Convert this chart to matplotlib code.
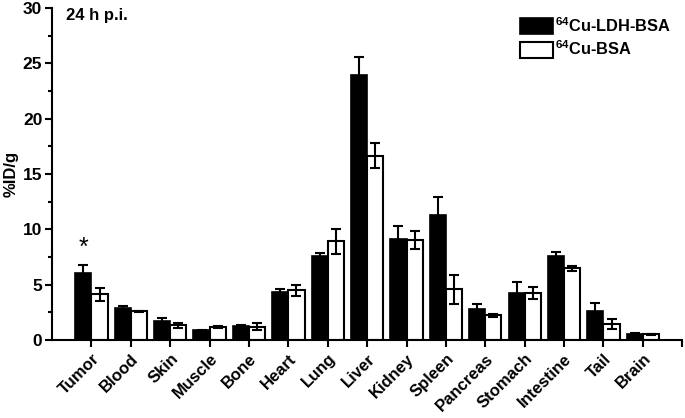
import numpy as np
import matplotlib
matplotlib.use("Agg")
import matplotlib.pyplot as plt

plt.rcParams['font.family'] = ['Liberation Sans', 'DejaVu Sans']
plt.rcParams['font.weight'] = 'bold'
plt.rcParams['mathtext.fontset'] = 'custom'
plt.rcParams['mathtext.rm'] = 'Liberation Sans:bold'
plt.rcParams['mathtext.default'] = 'rm'

organs = ["Tumor", "Blood", "Skin", "Muscle", "Bone", "Heart", "Lung", "Liver",
          "Kidney", "Spleen", "Pancreas", "Stomach", "Intestine", "Tail", "Brain"]
ldh_bsa = [6.05, 2.85, 1.7, 0.85, 1.27, 4.3, 7.6, 23.9, 9.1, 11.3, 2.8, 4.27, 7.6, 2.6, 0.55]
ldh_err = [0.75, 0.22, 0.25, 0.05, 0.05, 0.33, 0.25, 1.65, 1.2, 1.65, 0.4, 1.0, 0.35, 0.7, 0.07]
bsa = [4.1, 2.6, 1.3, 1.15, 1.2, 4.5, 8.9, 16.65, 9.05, 4.55, 2.2, 4.2, 6.47, 1.45, 0.5]
bsa_err = [0.55, 0.05, 0.25, 0.08, 0.3, 0.5, 1.15, 1.1, 0.8, 1.3, 0.15, 0.55, 0.22, 0.45, 0.07]

fig = plt.figure(figsize=(6.85, 4.18), dpi=100)
ax = fig.add_axes([0.076, 0.187, 0.92, 0.794])

x = np.arange(1, len(organs) + 1)
w = 0.41
ax.bar(x - w/2, ldh_bsa, w, color='black', edgecolor='black', linewidth=1.2,
       label=r'$^{64}$Cu-LDH-BSA', zorder=2)
ax.bar(x + w/2, bsa, w, color='white', edgecolor='black', linewidth=1.5,
       label=r'$^{64}$Cu-BSA', zorder=2)
ax.errorbar(x - w/2, ldh_bsa, yerr=ldh_err, fmt='none', ecolor='black',
            elinewidth=1.5, capsize=3.5, capthick=1.5, zorder=3)
ax.errorbar(x + w/2, bsa, yerr=bsa_err, fmt='none', ecolor='black',
            elinewidth=1.5, capsize=3.5, capthick=1.5, zorder=3)

# significance mark on tumor
ax.text(x[0] - w/2, ldh_bsa[0] + ldh_err[0] + 0.45, '*', ha='center', va='bottom',
        fontsize=18, fontweight='normal')

ax.text(0.35, 29.95, '24 h p.i.', fontsize=12, fontweight='bold', va='top')

ax.set_xlim(0, 16)
ax.set_ylim(0, 30)
ax.set_xticks(list(x) + [16])
ax.set_xticklabels(organs + [''], rotation=45, ha='right', rotation_mode='anchor',
                   fontsize=12, fontweight='bold')
ax.set_yticks(np.arange(0, 31, 5))
ax.set_yticks(np.arange(2.5, 30, 5), minor=True)
ax.tick_params(axis='y', which='major', labelsize=12.5, length=5, width=1.5, direction='out', pad=2)
ax.tick_params(axis='y', which='minor', length=3, width=1.5, direction='out')
ax.tick_params(axis='x', length=5, width=1.5, direction='out', pad=3)
for lab in ax.get_yticklabels():
    lab.set_fontweight('bold')

ax.spines['top'].set_visible(False)
ax.spines['right'].set_visible(False)
ax.spines['left'].set_linewidth(1.5)
ax.spines['bottom'].set_linewidth(1.5)

ax.set_ylabel('%ID/g', fontsize=12, fontweight='bold', labelpad=3)

ax.legend(loc='upper right', bbox_to_anchor=(0.995, 1.0), frameon=False,
          fontsize=11.8, handlelength=2.05, handleheight=1.15, handletextpad=0.1,
          labelspacing=0.3, borderaxespad=0.1)

fig.savefig('out.png', dpi=100)
